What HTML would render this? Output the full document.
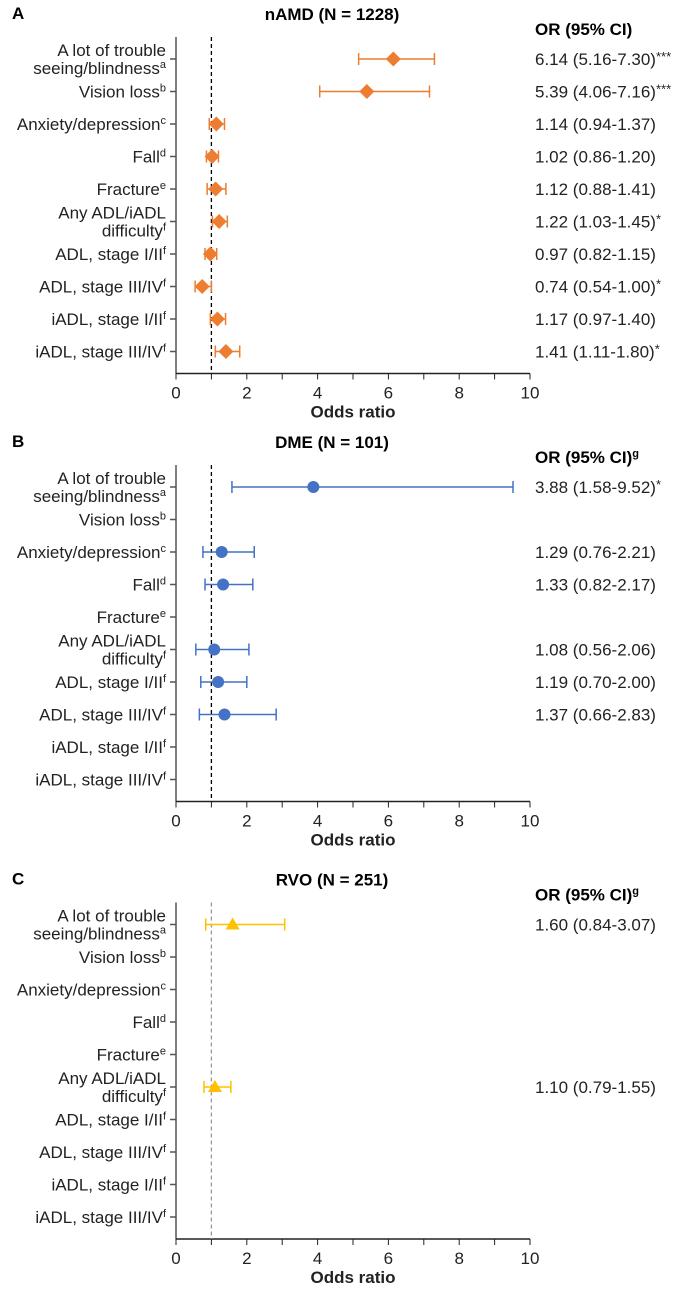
<!DOCTYPE html>
<html><head><meta charset="utf-8"><style>
html,body{margin:0;padding:0;background:#fff}
svg{display:block;font-family:"Liberation Sans",Arial,sans-serif}
</style></head><body>
<svg id="chart" width="690" height="1289" viewBox="0 0 690 1289" xmlns="http://www.w3.org/2000/svg"></svg>
<script>
const categories = ["A lot of trouble|seeing/blindness^a","Vision loss^b","Anxiety/depression^c","Fall^d","Fracture^e","Any ADL/iADL|difficulty^f","ADL, stage I/II^f","ADL, stage III/IV^f","iADL, stage I/II^f","iADL, stage III/IV^f"];
const xTicks = [0,2,4,6,8,10];
const namdOR  = [6.14,5.39,1.14,1.02,1.12,1.22,0.97,0.74,1.17,1.41];
const namdLo  = [5.16,4.06,0.94,0.86,0.88,1.03,0.82,0.54,0.97,1.11];
const namdHi  = [7.30,7.16,1.37,1.20,1.41,1.45,1.15,1.00,1.40,1.80];
const namdSig = ["***","***","","","","*","","*","","*"];
const dmeOR  = [3.88,null,1.29,1.33,null,1.08,1.19,1.37,null,null];
const dmeLo  = [1.58,null,0.76,0.82,null,0.56,0.70,0.66,null,null];
const dmeHi  = [9.52,null,2.21,2.17,null,2.06,2.00,2.83,null,null];
const dmeSig = ["*","","","","","","","","",""];
const rvoOR  = [1.60,null,null,null,null,1.10,null,null,null,null];
const rvoLo  = [0.84,null,null,null,null,0.79,null,null,null,null];
const rvoHi  = [3.07,null,null,null,null,1.55,null,null,null,null];
const rvoSig = ["","","","","","","","","",""];

const svg = document.getElementById('chart');
const NS = 'http://www.w3.org/2000/svg';
const X0 = 176, X1 = 530;
const xScale = v => X0 + (v/10)*(X1-X0);
function mk(tag, attrs, parent){const e=document.createElementNS(NS,tag);for(const k in attrs)e.setAttribute(k,attrs[k]);(parent||svg).appendChild(e);return e;}
function fmt(v){return v.toFixed(2);}
function labelText(parent, str, x, y){
  const t = mk('text',{x:x,y:y,'text-anchor':'end','font-size':17,fill:'#222'},parent);
  const [main,sup] = str.split('^');
  t.appendChild(document.createTextNode(main));
  if(sup){const s=mk('tspan',{'font-size':11,dy:-6},t);s.textContent=sup;}
  return t;
}
const panels = [
 {letter:'A',title:'nAMD (N = 1228)',row0:59,color:'#ED7D31',marker:'diamond',ref:'#000',or:namdOR,lo:namdLo,hi:namdHi,sig:namdSig,sup:''},
 {letter:'B',title:'DME (N = 101)',row0:487,color:'#4472C4',marker:'circle',ref:'#000',or:dmeOR,lo:dmeLo,hi:dmeHi,sig:dmeSig,sup:'g'},
 {letter:'C',title:'RVO (N = 251)',row0:924.5,color:'#FFC000',marker:'triangle',ref:'#999',or:rvoOR,lo:rvoLo,hi:rvoHi,sig:rvoSig,sup:'g'}
];
const STEP = 32.5;
panels.forEach(p=>{
  const g = mk('g',{});
  
  
  const top = p.row0-22, axisY = p.row0+9*STEP+22;
  const L = mk('text',{x:12,y:p.row0-40,'font-size':17,'font-weight':'bold',fill:'#000'},g);
  L.textContent = p.letter;
  
  
  const T = mk('text',{x:332,y:p.row0-39,'font-size':17,'font-weight':'bold','text-anchor':'middle',fill:'#000'},g);
  T.textContent = p.title;
  
  
  const H = mk('text',{x:535,y:p.row0-24,'font-size':17,'font-weight':'bold',fill:'#000'},g);
  H.appendChild(document.createTextNode('OR (95% CI)'));
  if(p.sup){const s=mk('tspan',{'font-size':11,dy:-6},H);s.textContent=p.sup;}
  
  
  const ya = mk('line',{x1:X0,y1:top,x2:X0,y2:axisY,stroke:'#555','stroke-width':1.5},g);
  
  
  const xa = mk('line',{x1:X0,y1:axisY,x2:X1,y2:axisY,stroke:'#222','stroke-width':1.5},g);
  
  
  for(let v=0; v<=10; v++){
    const tk = mk('line',{x1:xScale(v),y1:axisY,x2:xScale(v),y2:axisY+6,stroke:'#222','stroke-width':1},g);
    
    
  }
  xTicks.forEach(v=>{
    const tl = mk('text',{x:xScale(v),y:axisY+25,'font-size':17,'text-anchor':'middle',fill:'#222'},g);
    tl.textContent = v;
    
    
  });
  const xt = mk('text',{x:xScale(5),y:axisY+44,'font-size':17,'font-weight':'bold','text-anchor':'middle',fill:'#222'},g);
  xt.textContent = 'Odds ratio';
  
  
  const rl = mk('line',{x1:xScale(1),y1:top,x2:xScale(1),y2:axisY,stroke:p.ref,'stroke-width':1.3,'stroke-dasharray':'4,3'},g);
  
  
  categories.forEach((c,i)=>{
    const y = p.row0 + i*STEP;
    const tk = mk('line',{x1:X0-6,y1:y,x2:X0,y2:y,stroke:'#555','stroke-width':1.5},g);
    
    
    const parts = c.split('|');
    let lab;
    if(parts.length===2){
      const l1 = labelText(g, parts[0], 166, y-3);
      
      
      lab = labelText(g, parts[1], 166, y+15);
    } else lab = labelText(g, parts[0], 166, y+6);
    
    
    if(p.or[i]==null) return;
    const x1 = xScale(p.lo[i]), x2 = xScale(p.hi[i]), xm = xScale(p.or[i]);
    const ci = mk('path',{d:`M${x1},${y}H${x2}M${x1},${y-6}V${y+6}M${x2},${y-6}V${y+6}`,stroke:p.color,'stroke-width':1.5,fill:'none'},g);
    
    
    let m;
    if(p.marker==='diamond') m = mk('path',{d:`M${xm},${y-7.5}L${xm+7.5},${y}L${xm},${y+7.5}L${xm-7.5},${y}Z`,fill:p.color},g);
    else if(p.marker==='circle') m = mk('circle',{cx:xm,cy:y,r:6,fill:p.color},g);
    else m = mk('path',{d:`M${xm},${y-7}L${xm+7},${y+5}L${xm-7},${y+5}Z`,fill:p.color},g);
    
    
    const vt = mk('text',{x:535,y:y+6,'font-size':17,fill:'#222'},g);
    vt.appendChild(document.createTextNode(`${fmt(p.or[i])} (${fmt(p.lo[i])}-${fmt(p.hi[i])})`));
    if(p.sig[i]){const s=mk('tspan',{'font-size':13,dy:-4},vt);s.textContent=p.sig[i];}
    
    
  });
});
</script>
</body></html>
